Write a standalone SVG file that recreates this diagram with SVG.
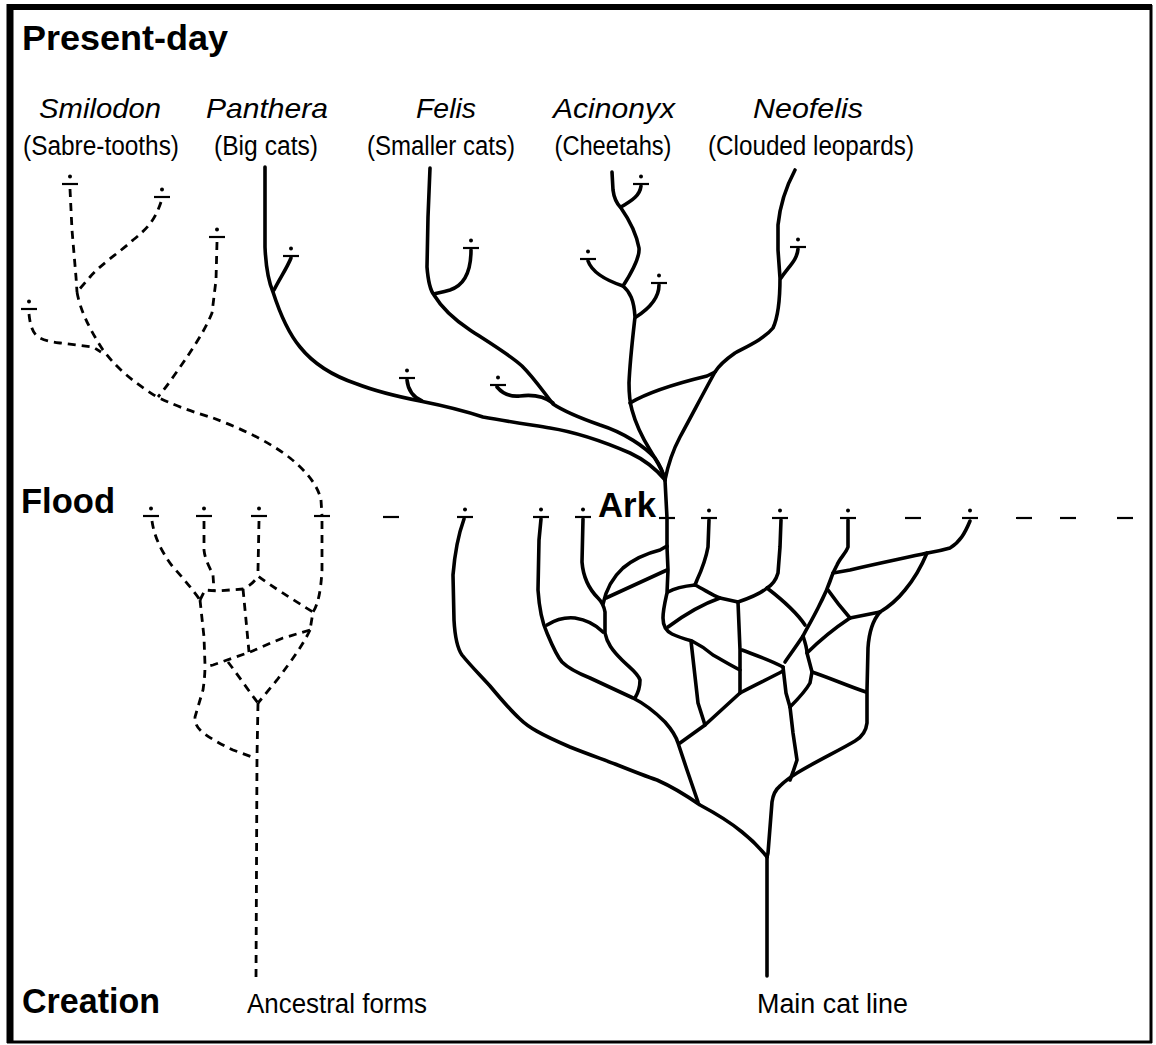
<svg xmlns="http://www.w3.org/2000/svg" xmlns:xlink="http://www.w3.org/1999/xlink" width="1156" height="1045" viewBox="0 0 1156 1045">
<style>
.s{fill:none;stroke:#000;stroke-width:3.6;stroke-linecap:round;stroke-linejoin:round}
.d{fill:none;stroke:#000;stroke-width:2.8;stroke-dasharray:8 6}
.b{font-family:"Liberation Sans",Arial,sans-serif;font-weight:bold;font-size:35px}
.i{font-family:"Liberation Sans",Arial,sans-serif;font-style:italic;font-size:28px;text-anchor:middle}
.r{font-family:"Liberation Sans",Arial,sans-serif;font-size:27px;text-anchor:middle}
.l{font-family:"Liberation Sans",Arial,sans-serif;font-size:27px}
</style>
<defs>
<g id="ext"><line x1="-8" y1="0" x2="8" y2="0" stroke="#000" stroke-width="2.2"/><circle cx="0" cy="-7.5" r="2" fill="#000"/></g>
<line id="bar" x1="-8" y1="0" x2="8" y2="0" stroke="#000" stroke-width="2.2"/>
</defs>
<rect width="1156" height="1045" fill="#fff"/>
<g id="frame">
<line x1="10" y1="4" x2="10" y2="1043" stroke="#000" stroke-width="7"/>
<line x1="7" y1="7" x2="1152" y2="7" stroke="#000" stroke-width="6"/>
<line x1="1151" y1="5" x2="1151" y2="1043" stroke="#000" stroke-width="3"/>
<line x1="7" y1="1042" x2="1152" y2="1042" stroke="#000" stroke-width="3"/>
</g>
<g id="labels">
<text class="b" x="22" y="50" textLength="206" lengthAdjust="spacingAndGlyphs">Present-day</text>
<text class="b" x="21" y="513" textLength="94" lengthAdjust="spacingAndGlyphs">Flood</text>
<text class="b" x="598" y="517" textLength="58" lengthAdjust="spacingAndGlyphs">Ark</text>
<text class="b" x="22" y="1013" textLength="138" lengthAdjust="spacingAndGlyphs">Creation</text>
<text class="i" x="100" y="118" textLength="122" lengthAdjust="spacingAndGlyphs">Smilodon</text>
<text class="i" x="267" y="118" textLength="122" lengthAdjust="spacingAndGlyphs">Panthera</text>
<text class="i" x="446" y="118" textLength="60" lengthAdjust="spacingAndGlyphs">Felis</text>
<text class="i" x="614" y="118" textLength="122" lengthAdjust="spacingAndGlyphs">Acinonyx</text>
<text class="i" x="808" y="118" textLength="110" lengthAdjust="spacingAndGlyphs">Neofelis</text>
<text class="r" x="101" y="155" textLength="156" lengthAdjust="spacingAndGlyphs">(Sabre-tooths)</text>
<text class="r" x="266" y="155" textLength="104" lengthAdjust="spacingAndGlyphs">(Big cats)</text>
<text class="r" x="441" y="155" textLength="148" lengthAdjust="spacingAndGlyphs">(Smaller cats)</text>
<text class="r" x="613" y="155" textLength="117" lengthAdjust="spacingAndGlyphs">(Cheetahs)</text>
<text class="r" x="811" y="155" textLength="206" lengthAdjust="spacingAndGlyphs">(Clouded leopards)</text>
<text class="l" x="247" y="1013" textLength="180" lengthAdjust="spacingAndGlyphs">Ancestral forms</text>
<text class="l" x="757" y="1013" textLength="151" lengthAdjust="spacingAndGlyphs">Main cat line</text>
</g>
<g id="marks">
<use xlink:href="#ext" x="70" y="184"/>
<use xlink:href="#ext" x="162" y="197"/>
<use xlink:href="#ext" x="217" y="237"/>
<use xlink:href="#ext" x="29" y="309"/>
<use xlink:href="#ext" x="291" y="256"/>
<use xlink:href="#ext" x="407" y="378"/>
<use xlink:href="#ext" x="471" y="248"/>
<use xlink:href="#ext" x="498" y="385"/>
<use xlink:href="#ext" x="641" y="184"/>
<use xlink:href="#ext" x="588" y="259"/>
<use xlink:href="#ext" x="659" y="283"/>
<use xlink:href="#ext" x="798" y="247"/>
<use xlink:href="#ext" x="151" y="516"/>
<use xlink:href="#ext" x="204" y="516"/>
<use xlink:href="#ext" x="259" y="516"/>
<use xlink:href="#ext" x="465" y="517"/>
<use xlink:href="#ext" x="541" y="517"/>
<use xlink:href="#ext" x="583" y="517"/>
<use xlink:href="#ext" x="709" y="518"/>
<use xlink:href="#ext" x="780" y="518"/>
<use xlink:href="#ext" x="848" y="518"/>
<use xlink:href="#ext" x="970" y="518"/>
<use xlink:href="#bar" x="322" y="516"/>
<use xlink:href="#bar" x="667" y="518"/>
<use xlink:href="#bar" x="391" y="517"/>
<use xlink:href="#bar" x="913" y="518"/>
<use xlink:href="#bar" x="1024" y="518"/>
<use xlink:href="#bar" x="1068" y="518"/>
<use xlink:href="#bar" x="1125" y="518"/>
</g>
<g id="connectors">
<path class="d" d="M70,189 L72,230 L76,277 L77,292"/>
<path class="d" d="M161,202 C155,220 148,228 133,240 C120,252 100,265 90,277 L77,292"/>
<path class="d" d="M77,292 C80,310 90,330 103,350 C115,366 130,380 157,397 C180,408 200,414 213,418 C240,428 270,442 290,458 C305,470 318,485 321,500 L322,516"/>
<path class="d" d="M217,242 L216,280 L212,313 C205,330 195,345 187,357 C178,370 168,385 158,397"/>
<path class="d" d="M29,314 C30,325 33,335 40,338 C46,341 53,342 60,343 L93,347 L101,352"/>
<path class="d" d="M152,521 C154,535 160,550 173,567 C183,578 193,590 200,600"/>
<path class="d" d="M204,521 L204,550 C205,560 210,568 213,575 L214,590"/>
<path class="d" d="M200,600 L205,590 L217,591 L243,589 C250,586 255,581 258,576"/>
<path class="d" d="M259,521 L258,570 L258,576 C270,585 290,598 313,612"/>
<path class="d" d="M322,521 L322,570 C321,590 318,605 313,612 L310,630"/>
<path class="d" d="M243,589 L246,620 L249,652"/>
<path class="d" d="M310,630 C300,633 290,636 283,638 C270,643 260,648 250,652 L213,665 L205,667"/>
<path class="d" d="M200,600 L204,637 L205,665 C205,675 204,683 203,690 C200,700 197,710 195,717 C195,725 198,728 202,732 C210,738 220,744 233,750 L255,758"/>
<path class="d" d="M228,662 C238,675 248,690 258,703"/>
<path class="d" d="M310,630 C303,645 292,660 277,680 L258,703"/>
<path class="d" d="M258,703 L257,757 L256,980"/>
<path class="s" d="M265,167 L265,247 C266,270 270,285 273,292 C282,320 290,335 300,347 C312,362 330,375 357,384 C375,391 395,396 420,401 C445,406 465,411 483,417 C505,421 525,424 550,428 C575,432 600,440 630,453 C645,460 657,470 665,480"/>
<path class="s" d="M291,258 C287,268 280,278 274,290"/>
<path class="s" d="M407,380 C408,390 413,397 422,401"/>
<path class="s" d="M430,168 L428,217 L427,267 C428,280 430,290 434,295 C440,305 452,318 470,330 C490,343 510,355 522,366 C534,378 542,390 553,404 C565,412 580,418 600,425 C625,433 645,447 655,458 C660,465 663,472 665,480"/>
<path class="s" d="M471,250 C471,270 465,285 450,290 C443,292 438,293 434,294"/>
<path class="s" d="M497,387 C502,393 510,397 520,396 C535,394 545,397 553,403"/>
<path class="s" d="M612,172 L613,190 C614,198 617,204 621,208 C628,218 636,232 639,248 C640,258 632,272 623,286 C630,292 634,300 635,317 C633,335 630,360 629,383 C629,395 630,403 632,410 C636,425 642,437 650,450 C657,462 663,470 665,480"/>
<path class="s" d="M641,186 C640,195 633,200 621,207"/>
<path class="s" d="M588,261 C592,272 605,280 623,286"/>
<path class="s" d="M659,285 C659,298 650,308 636,317"/>
<path class="s" d="M630,403 C645,394 670,385 707,376 L715,372"/>
<path class="s" d="M795,170 C787,185 780,205 778,225 L778,250 L780,278 C780,295 779,315 773,328 C765,338 750,345 735,353 C725,360 718,367 715,372 C705,390 692,415 680,437 C672,452 668,465 665,480"/>
<path class="s" d="M798,249 C797,260 790,265 781,278"/>
<path class="s" d="M665,480 L667,518 L667,547"/>
<path class="s" d="M464,519 C460,530 455,550 453,575 L454,620 C455,638 457,648 462,655 C470,665 480,675 490,686 C500,698 510,710 520,719 C528,727 540,734 570,747 C590,755 605,760 615,764 C630,770 645,776 657,780 C675,788 690,798 700,805 C715,813 730,822 742,832 C752,840 760,848 767,857"/>
<path class="s" d="M541,519 L539,540 L538,590 C539,605 541,620 547,633 C552,645 556,655 562,662 C568,668 575,672 590,678 C605,685 620,692 633,698 C645,704 655,712 665,722 C672,730 676,736 678,743 L687,770 L698,802"/>
<path class="s" d="M547,625 C555,620 565,617 575,618 C588,620 597,626 603,632"/>
<path class="s" d="M583,519 L582,562 C583,575 588,588 598,598 C602,602 604,606 605,612 L605,633 C607,643 612,650 622,660 C630,668 638,673 640,680 C640,688 638,693 635,698"/>
<path class="s" d="M603,604 C606,590 612,578 623,568 C635,558 648,553 660,550 L667,546"/>
<path class="s" d="M606,598 L667,570"/>
<path class="s" d="M667,547 L668,570 L667,593 C665,602 663,610 663,618 C663,626 666,631 672,634 C678,637 685,639 692,641 C700,645 706,649 713,655 C722,660 730,665 740,670"/>
<path class="s" d="M691,641 L698,703 L705,725"/>
<path class="s" d="M740,693 L705,725 L680,743"/>
<path class="s" d="M668,592 C675,588 685,586 695,585"/>
<path class="s" d="M709,520 L708,547 C706,558 703,567 697,580 L695,585"/>
<path class="s" d="M695,585 C705,590 712,595 720,598 L738,602"/>
<path class="s" d="M668,627 C680,618 700,605 720,598"/>
<path class="s" d="M781,520 L780,547 L778,573 C776,580 772,585 767,588 C760,594 750,598 738,602"/>
<path class="s" d="M738,602 L740,650 L740,693"/>
<path class="s" d="M767,588 C780,598 795,610 805,625"/>
<path class="s" d="M848,520 L848,547 C846,553 840,558 837,565 L833,573 C829,585 825,595 818,608 C812,620 807,628 803,636 C797,645 792,652 785,662"/>
<path class="s" d="M742,650 C755,655 770,660 783,667"/>
<path class="s" d="M740,693 C755,685 770,678 783,671"/>
<path class="s" d="M783,667 L786,693 L790,707"/>
<path class="s" d="M803,636 C806,645 807,650 807,653 L812,672 L810,683 C805,692 797,700 790,707"/>
<path class="s" d="M790,707 L793,733 L797,760 L793,772 L790,780"/>
<path class="s" d="M807,653 C820,640 835,628 850,618"/>
<path class="s" d="M850,618 L880,612"/>
<path class="s" d="M828,590 C835,600 843,610 850,618"/>
<path class="s" d="M812,672 C830,678 848,686 866,692"/>
<path class="s" d="M970,521 C965,533 960,542 950,548 C940,551 933,552 927,553 C905,558 880,563 850,570 L833,573"/>
<path class="s" d="M927,553 C922,565 915,578 905,590 C897,600 890,606 880,612"/>
<path class="s" d="M880,612 C873,620 869,632 868,648 L867,690 L867,723 C866,732 862,737 855,741 C840,750 815,762 797,773 C789,778 784,782 780,786 C775,790 773,795 772,802 L768,853 L767,857"/>
<path class="s" d="M767,857 L767,976"/>
</g>
</svg>
